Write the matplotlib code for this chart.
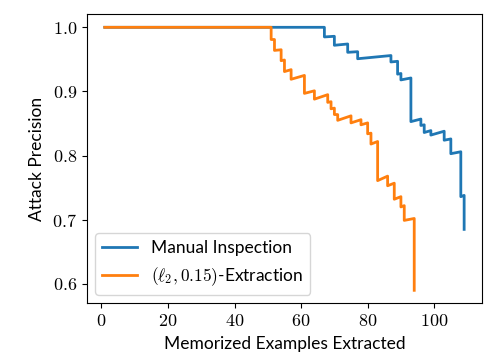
import matplotlib
matplotlib.use("Agg")
import matplotlib.pyplot as plt

plt.rcParams['mathtext.fontset'] = 'cm'
plt.rcParams['font.family'] = ['Lato', 'DejaVu Sans']

# Manual Inspection: (memorized examples extracted, attack precision) vertices
manual_x = [1, 67, 67, 70, 70, 74, 74, 77, 77, 87, 87, 89, 89, 90, 90, 93, 93,
            96, 96, 97, 97, 99, 99, 103, 103, 105, 105, 108, 108, 109, 109]
manual_y = [1.0, 1.0, 0.985, 0.986, 0.972, 0.974, 0.961, 0.962, 0.951, 0.956, 0.946,
            0.947, 0.927, 0.928, 0.918, 0.921, 0.853, 0.857, 0.847, 0.848, 0.836,
            0.839, 0.832, 0.838, 0.824, 0.826, 0.803, 0.806, 0.736, 0.738, 0.685]

# (l2, 0.15)-Extraction vertices
l2_x = [1, 51, 51, 52, 52, 54, 54, 55, 55, 57, 57, 61, 61, 64, 64, 68, 68, 69, 69,
        70, 70, 71, 71, 75, 75, 78, 78, 80, 80, 81, 81, 83, 83, 86, 86, 88, 88,
        90, 90, 91, 91, 94, 94]
l2_y = [1.0, 1.0, 0.981, 0.981, 0.964, 0.965, 0.948, 0.949, 0.931, 0.934, 0.919,
        0.925, 0.897, 0.901, 0.888, 0.895, 0.883, 0.884, 0.873, 0.874, 0.864,
        0.864, 0.855, 0.862, 0.851, 0.856, 0.848, 0.851, 0.834, 0.835, 0.818,
        0.822, 0.761, 0.768, 0.753, 0.757, 0.732, 0.736, 0.720, 0.722, 0.699,
        0.702, 0.590]

series_labels = ["Manual Inspection", r"$(\ell_2, 0.15)$-Extraction"]
xticks = [0, 20, 40, 60, 80, 100]
yticks = [0.6, 0.7, 0.8, 0.9, 1.0]

fig = plt.figure(figsize=(4.96, 3.63), dpi=100)
ax = fig.add_axes([0.175, 0.164, 0.797, 0.797])

ax.plot(manual_x, manual_y, color='#1f77b4', lw=2.0, label=series_labels[0])
ax.plot(l2_x, l2_y, color='#ff7f0e', lw=2.0, label=series_labels[1])

ax.set_xticks(xticks, labels=[f"${t}$" for t in xticks], fontsize=13)
ax.set_yticks(yticks, labels=[f"${t:.1f}$" for t in yticks], fontsize=13)

ax.set_xlabel("Memorized Examples Extracted", fontsize=12.5, labelpad=5)
ax.set_ylabel("Attack Precision", fontsize=12.5, labelpad=5)

ax.legend(loc='lower left', fontsize=12.5)

fig.savefig("out.png", dpi=100)
